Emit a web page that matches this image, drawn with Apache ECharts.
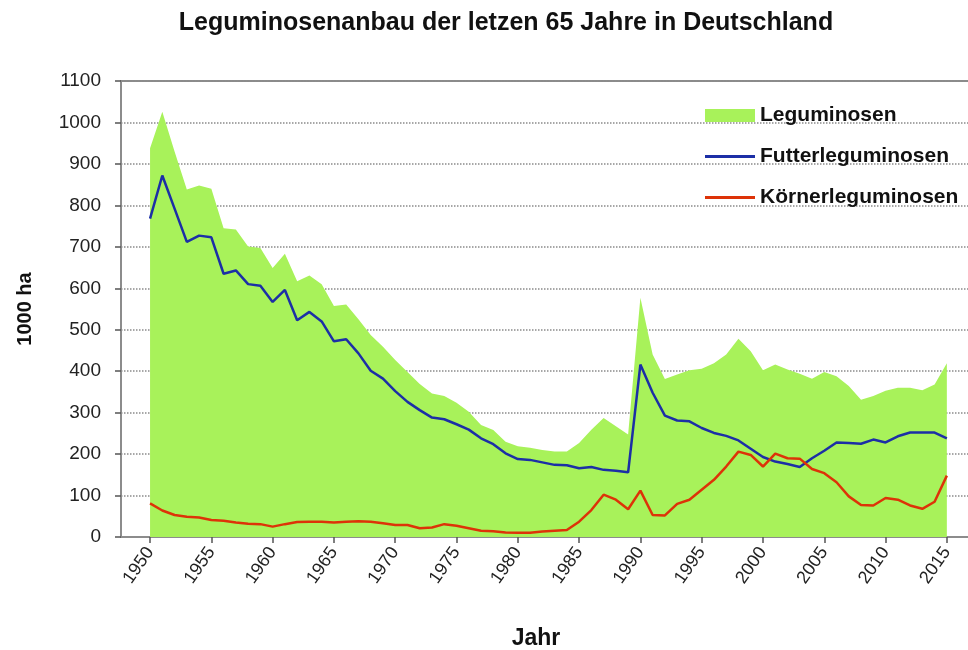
<!DOCTYPE html>
<html>
<head>
<meta charset="utf-8">
<script src="https://cdn.jsdelivr.net/npm/echarts@6/dist/echarts.min.js"></script>
<style>
  html, body { margin: 0; padding: 0; background: #fff; }
  #chart { width: 968px; height: 650px; }
</style>
</head>
<body>
<div id="chart"></div>
<script>
// Jahre 1950 - 2015
var years = [
  1950, 1951, 1952, 1953, 1954, 1955, 1956, 1957, 1958, 1959,
  1960, 1961, 1962, 1963, 1964, 1965, 1966, 1967, 1968, 1969,
  1970, 1971, 1972, 1973, 1974, 1975, 1976, 1977, 1978, 1979,
  1980, 1981, 1982, 1983, 1984, 1985, 1986, 1987, 1988, 1989,
  1990, 1991, 1992, 1993, 1994, 1995, 1996, 1997, 1998, 1999,
  2000, 2001, 2002, 2003, 2004, 2005, 2006, 2007, 2008, 2009,
  2010, 2011, 2012, 2013, 2014, 2015
];

// 1000 ha
var leguminosen = [
  938, 1026, 930, 838, 848, 840, 745, 742, 701, 697,
  649, 683, 617, 631, 610, 557, 561, 525, 487, 459,
  427, 398, 369, 346, 340, 324, 302, 270, 258, 230,
  219, 215, 210, 206, 206, 227, 259, 287, 267, 247,
  577, 440, 381, 392, 402, 406, 419, 440, 478, 448,
  402, 416, 404, 394, 382, 398, 388, 364, 331, 340,
  353, 360, 360, 354, 368, 419
];

var futterleguminosen = [
  768, 872, 792, 712, 727, 723, 635, 643, 610, 606,
  567, 596, 523, 543, 520, 472, 477, 443, 401, 382,
  352, 326, 306, 288, 284, 272, 259, 238, 224, 202,
  188, 186, 180, 174, 173, 166, 169, 162, 160, 156,
  416, 348, 293, 281, 279, 263, 251, 244, 233, 213,
  193, 182, 176, 169, 190, 208, 228, 227, 225, 235,
  228, 243, 252, 252, 252, 238
];

var koernerleguminosen = [
  81, 64, 53, 49, 47, 41, 39, 35, 32, 31,
  25, 31, 36, 37, 37, 35, 37, 38, 37, 33,
  29, 29, 21, 23, 31, 27, 21, 15, 14, 11,
  10, 10, 13, 15, 17, 37, 65, 102, 90, 67,
  112, 53, 52, 80, 90, 114, 138, 170, 206, 198,
  170, 201, 190, 189, 164, 154, 132, 98, 77, 76,
  94, 90, 76, 68, 85, 148
];

var xTickYears = [1950, 1955, 1960, 1965, 1970, 1975, 1980, 1985, 1990, 1995, 2000, 2005, 2010, 2015];

function pairs(vals) {
  var res = [];
  for (var i = 0; i < years.length; i++) {
    res.push([years[i], vals[i]]);
  }
  return res;
}

var font = 'Liberation Sans, Arial, sans-serif';
var lineIcon = 'path://M0,0 H50 V3 H0 Z';
var myChart = echarts.init(document.getElementById('chart'));

var option = {
  animation: false,
  textStyle: { fontFamily: font },
  title: {
    text: 'Leguminosenanbau der letzen 65 Jahre in Deutschland',
    left: 501,
    top: 6,
    textAlign: 'center',
    textStyle: { fontFamily: font, fontSize: 25, fontWeight: 'bold', color: '#111' }
  },
  legend: {
    orient: 'vertical',
    left: 700,
    top: 100,
    itemWidth: 50,
    itemHeight: 13,
    itemGap: 20,
    textStyle: { fontFamily: font, fontSize: 21, fontWeight: 'bold', color: '#111' },
    data: [
      { name: 'Leguminosen', icon: 'rect' },
      { name: 'Futterleguminosen', icon: lineIcon },
      { name: 'Körnerleguminosen', icon: lineIcon }
    ]
  },
  grid: {
    left: 121,
    top: 81,
    right: -3,
    bottom: 113,
    outerBoundsMode: 'none',
    show: true,
    borderColor: '#8c8c8c',
    borderWidth: 2
  },
  xAxis: {
    type: 'value',
    min: 1947.63,
    max: 2016.97,
    name: 'Jahr',
    nameLocation: 'middle',
    nameGap: 90,
    nameTextStyle: { fontFamily: font, fontSize: 23, fontWeight: 'bold', color: '#111', padding: [0, 20, 0, 0] },
    splitLine: { show: false },
    axisLine: { lineStyle: { color: '#8c8c8c', width: 2 } },
    axisTick: { customValues: xTickYears, length: 6, lineStyle: { color: '#555', width: 1.5 } },
    axisLabel: {
      customValues: xTickYears,
      rotate: 55,
      margin: 12,
      fontSize: 18,
      color: '#222',
      fontFamily: font,
      formatter: function (v) { return String(v); }
    }
  },
  yAxis: {
    type: 'value',
    min: 0,
    max: 1100,
    interval: 100,
    name: '1000 ha',
    nameLocation: 'middle',
    nameGap: 86,
    nameTextStyle: { fontFamily: font, fontSize: 20, fontWeight: 'bold', color: '#111' },
    axisLine: { show: true, lineStyle: { color: '#8c8c8c', width: 2 } },
    axisTick: { show: true, length: 6, lineStyle: { color: '#555', width: 1.5 } },
    axisLabel: {
      fontSize: 19, color: '#222', margin: 20, fontFamily: font,
      formatter: function (v) { return String(v); }
    },
    splitLine: { lineStyle: { type: 'dotted', color: '#8a8a8a', width: 1.5 } }
  },
  series: [{
    name: 'Leguminosen',
    type: 'line',
    data: pairs(leguminosen),
    showSymbol: false,
    symbol: 'none',
    lineStyle: { width: 0, color: '#a8f25a' },
    itemStyle: { color: '#a8f25a' },
    areaStyle: { color: '#a8f25a', opacity: 1 },
    z: 1
  }, {
    name: 'Futterleguminosen',
    type: 'line',
    data: pairs(futterleguminosen),
    showSymbol: false,
    symbol: 'none',
    lineStyle: { width: 2.5, color: '#1c2fa6' },
    itemStyle: { color: '#1c2fa6' },
    z: 3
  }, {
    name: 'Körnerleguminosen',
    type: 'line',
    data: pairs(koernerleguminosen),
    showSymbol: false,
    symbol: 'none',
    lineStyle: { width: 2.5, color: '#dd3308' },
    itemStyle: { color: '#dd3308' },
    z: 4
  }]
};

myChart.setOption(option);
</script>
</body>
</html>
